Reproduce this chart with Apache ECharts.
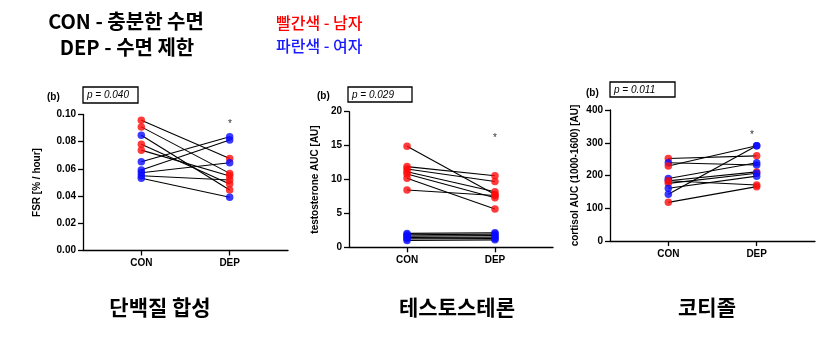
<!DOCTYPE html>
<html>
<head>
<meta charset="utf-8">
<script src="https://cdn.jsdelivr.net/npm/echarts@6/dist/echarts.min.js"></script>
<style>html,body{margin:0;padding:0;background:#fff}#c{width:837px;height:345px}</style>
</head>
<body>
<div id="c"></div>
<script>
// ---- data ----
const categories = ['CON', 'DEP'];

// Protein synthesis (FSR, % / hour)
const fsrCon    = [0.0958, 0.0909, 0.0848, 0.0782, 0.0738, 0.0653, 0.0592, 0.0572, 0.0550, 0.0531];
const fsrDep    = [0.0677, 0.0567, 0.0445, 0.0489, 0.0548, 0.0836, 0.0812, 0.0645, 0.0518, 0.0391];
const fsrConSex = ['M', 'M', 'F', 'M', 'M', 'F', 'F', 'F', 'F', 'F'];
const fsrDepSex = ['M', 'M', 'M', 'M', 'M', 'F', 'F', 'F', 'M', 'F'];
const fsrTicks  = [0, 0.02, 0.04, 0.06, 0.08, 0.10];

// Testosterone AUC [AU]
const testoCon    = [14.9, 11.9, 11.55, 11.15, 10.8, 10.2, 8.45, 2.05, 1.85, 1.65, 1.45, 1.25, 1.0];
const testoDep    = [7.8, 10.55, 9.7, 8.2, 7.3, 5.65, 7.65, 2.15, 1.95, 1.75, 1.5, 1.3, 1.1];
const testoConSex = ['M', 'M', 'M', 'M', 'M', 'M', 'M', 'F', 'F', 'F', 'F', 'F', 'F'];
const testoDepSex = ['M', 'M', 'M', 'M', 'M', 'M', 'M', 'F', 'F', 'F', 'F', 'F', 'F'];
const testoTicks  = [0, 5, 10, 15, 20];

// Cortisol AUC (1000-1600) [AU]
const cortCon    = [252, 239, 229, 191, 184, 176, 161, 143, 118, 184];
const cortDep    = [260, 232, 291, 239, 211, 207, 198, 291, 166, 171];
const cortConSex = ['M', 'F', 'M', 'F', 'F', 'M', 'F', 'F', 'M', 'M'];
const cortDepSex = ['M', 'F', 'F', 'F', 'M', 'F', 'F', 'F', 'M', 'M'];
const cortTicks  = [0, 100, 200, 300, 400];

const pValues = ['p = 0.040', 'p = 0.029', 'p = 0.011'];
const yNames  = ['FSR [% / hour]', 'testosterone AUC [AU]', 'cortisol AUC (1000-1600) [AU]'];
const panelTitles = ['단백질 합성', '테스토스테론', '코티졸'];

// ---- styling ----
const RED = '#ff0a0a', BLUE = '#0a0aff';
const sexColor = s => s === 'M' ? RED : BLUE;
const F = 'Liberation Sans, Arial, sans-serif';
const KR = '"Noto Sans CJK KR", sans-serif';

const panels = [
  {con: fsrCon, dep: fsrDep, cs: fsrConSex, ds: fsrDepSex, ticks: fsrTicks, dec: 2,
   grid: {left: 83, top: 114.5, width: 205, height: 136}, gap: 41},
  {con: testoCon, dep: testoDep, cs: testoConSex, ds: testoDepSex, ticks: testoTicks, dec: 0,
   grid: {left: 349, top: 111.7, width: 204, height: 135.6}, gap: 29},
  {con: cortCon, dep: cortDep, cs: cortConSex, ds: cortDepSex, ticks: cortTicks, dec: 0,
   grid: {left: 610, top: 110, width: 205, height: 131}, gap: 30}
];

const grid = [], xAxis = [], yAxis = [], series = [];
panels.forEach((p, i) => {
  grid.push(Object.assign({containLabel: false}, p.grid));
  xAxis.push({
    type: 'value', gridIndex: i, min: -0.66, max: 1.66,
    axisLine: {show: true, onZero: false, lineStyle: {color: '#000', width: 1.3}}, splitLine: {show: false},
    axisTick: {show: true, customValues: [0, 1], length: 5, lineStyle: {color: '#000', width: 1.3}},
    axisLabel: {customValues: [0, 1], formatter: v => categories[Math.round(v)],
      color: '#000', fontFamily: F, fontWeight: 'bold', fontSize: 10, margin: 8}
  });
  const t = p.ticks;
  yAxis.push({
    type: 'value', gridIndex: i, min: t[0], max: t[t.length - 1], interval: t[1] - t[0],
    name: yNames[i], nameLocation: 'middle', nameGap: p.gap, nameRotate: 90,
    nameTextStyle: {color: '#000', fontFamily: F, fontWeight: 'bold', fontSize: 10},
    axisLine: {show: true, onZero: false, lineStyle: {color: '#000', width: 1.3}}, splitLine: {show: false},
    axisTick: {show: true, length: 5, lineStyle: {color: '#000', width: 1.3}},
    axisLabel: {formatter: v => v.toFixed(p.dec), color: '#000', fontFamily: F,
      fontWeight: 'bold', fontSize: 10, margin: 7}
  });
  p.con.forEach((c, k) => {
    series.push({
      type: 'line', xAxisIndex: i, yAxisIndex: i, silent: true, symbol: 'none', z: 2,
      lineStyle: {color: '#000', width: 1.1},
      data: [[0, c], [1, p.dep[k]]]
    });
  });
  const pts = [];
  p.con.forEach((c, k) => pts.push({value: [0, c], itemStyle: {color: sexColor(p.cs[k])}}));
  p.dep.forEach((d, k) => pts.push({value: [1, d], itemStyle: {color: sexColor(p.ds[k])}}));
  series.push({type: 'scatter', xAxisIndex: i, yAxisIndex: i, symbolSize: 7.5, z: 3, silent: true, data: pts});
});

function txt(x, y, s, style) {
  return {type: 'text', x: x, y: y, silent: true,
    style: Object.assign({text: s, fill: '#000', fontFamily: F}, style)};
}
const graphic = [
  txt(126, 21, 'CON - 충분한 수면', {fontFamily: KR, fontWeight: 'bold', fontSize: 20, align: 'center', verticalAlign: 'middle'}),
  txt(127, 47, 'DEP - 수면 제한', {fontFamily: KR, fontWeight: 'bold', fontSize: 20, align: 'center', verticalAlign: 'middle'}),
  txt(276, 23, '빨간색 - 남자', {fontFamily: KR, fontSize: 16, fontWeight: 500, fill: '#ff0000', verticalAlign: 'middle'}),
  txt(276, 46, '파란색 - 여자', {fontFamily: KR, fontSize: 16, fontWeight: 500, fill: '#1a1aff', verticalAlign: 'middle'}),
  txt(160, 307, panelTitles[0], {fontFamily: KR, fontWeight: 'bold', fontSize: 21, align: 'center', verticalAlign: 'middle'}),
  txt(457, 307, panelTitles[1], {fontFamily: KR, fontWeight: 'bold', fontSize: 21, align: 'center', verticalAlign: 'middle'}),
  txt(707, 307, panelTitles[2], {fontFamily: KR, fontWeight: 'bold', fontSize: 21, align: 'center', verticalAlign: 'middle'}),
  // (b) labels
  txt(47, 97, '(b)', {fontWeight: 'bold', fontSize: 10, verticalAlign: 'middle'}),
  txt(317, 96, '(b)', {fontWeight: 'bold', fontSize: 10, verticalAlign: 'middle'}),
  txt(586, 93, '(b)', {fontWeight: 'bold', fontSize: 10, verticalAlign: 'middle'}),
  // p-value boxes
  {type: 'rect', shape: {x: 83, y: 87, width: 55, height: 16}, style: {fill: '#fff', stroke: '#000', lineWidth: 1.3}},
  {type: 'rect', shape: {x: 348, y: 87, width: 64, height: 15}, style: {fill: '#fff', stroke: '#000', lineWidth: 1.3}},
  {type: 'rect', shape: {x: 610, y: 82, width: 65, height: 15}, style: {fill: '#fff', stroke: '#000', lineWidth: 1.3}},
  txt(87, 95.5, pValues[0], {fontStyle: 'italic', fontSize: 10, verticalAlign: 'middle'}),
  txt(352, 95, pValues[1], {fontStyle: 'italic', fontSize: 10, verticalAlign: 'middle'}),
  txt(614, 90, pValues[2], {fontStyle: 'italic', fontSize: 10, verticalAlign: 'middle'}),
  // significance stars
  txt(230, 124, '*', {fontSize: 10, align: 'center', verticalAlign: 'middle', fill: '#333'}),
  txt(495, 138, '*', {fontSize: 10, align: 'center', verticalAlign: 'middle', fill: '#333'}),
  txt(752, 135, '*', {fontSize: 10, align: 'center', verticalAlign: 'middle', fill: '#333'})
];

const chart = echarts.init(document.getElementById('c'), null, {renderer: 'canvas'});
chart.setOption({animation: false, backgroundColor: '#fff', grid, xAxis, yAxis, series, graphic});
</script>
</body>
</html>
